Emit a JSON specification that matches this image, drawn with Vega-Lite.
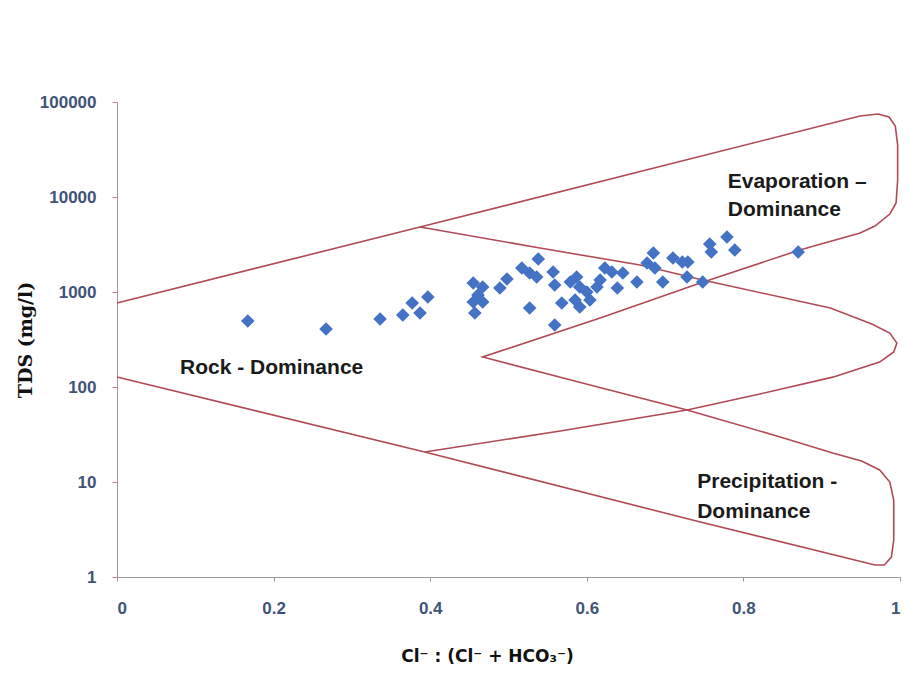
{
  "$schema": "https://vega.github.io/schema/vega-lite/v6.json",
  "width": 783,
  "height": 475,
  "autosize": {"type": "none"},
  "padding": {"left": 117, "top": 102, "right": 10, "bottom": 100},
  "background": "white",
  "config": {"view": {"stroke": null}},
  "datasets": {
    "boundary": [
      {"path": "outer", "order": 1, "ratio": 0, "tds": 766},
      {"path": "outer", "order": 2, "ratio": 0.387, "tds": 4832},
      {"path": "outer", "order": 3, "ratio": 0.949, "tds": 71250},
      {"path": "outer", "order": 4, "ratio": 0.972, "tds": 74780},
      {"path": "outer", "order": 5, "ratio": 0.986, "tds": 69500},
      {"path": "outer", "order": 6, "ratio": 0.994, "tds": 55850},
      {"path": "outer", "order": 7, "ratio": 0.997, "tds": 35260},
      {"path": "outer", "order": 8, "ratio": 0.997, "tds": 15100},
      {"path": "outer", "order": 9, "ratio": 0.995, "tds": 8650},
      {"path": "outer", "order": 10, "ratio": 0.987, "tds": 6620},
      {"path": "outer", "order": 11, "ratio": 0.968, "tds": 4950},
      {"path": "outer", "order": 12, "ratio": 0.949, "tds": 4180},
      {"path": "outer", "order": 13, "ratio": 0.872, "tds": 2770},
      {"path": "outer", "order": 14, "ratio": 0.745, "tds": 1244},
      {"path": "outer", "order": 15, "ratio": 0.617, "tds": 532},
      {"path": "outer", "order": 16, "ratio": 0.467, "tds": 207},
      {"path": "outer", "order": 17, "ratio": 0.598, "tds": 108},
      {"path": "outer", "order": 18, "ratio": 0.728, "tds": 57.3},
      {"path": "outer", "order": 19, "ratio": 0.847, "tds": 29.8},
      {"path": "outer", "order": 20, "ratio": 0.914, "tds": 20.2},
      {"path": "outer", "order": 21, "ratio": 0.951, "tds": 16.6},
      {"path": "outer", "order": 22, "ratio": 0.974, "tds": 13.4},
      {"path": "outer", "order": 23, "ratio": 0.987, "tds": 10},
      {"path": "outer", "order": 24, "ratio": 0.992, "tds": 6.46},
      {"path": "outer", "order": 25, "ratio": 0.992, "tds": 2.45},
      {"path": "outer", "order": 26, "ratio": 0.989, "tds": 1.62},
      {"path": "outer", "order": 27, "ratio": 0.98, "tds": 1.34},
      {"path": "outer", "order": 28, "ratio": 0.968, "tds": 1.34},
      {"path": "outer", "order": 29, "ratio": 0.745, "tds": 3.79},
      {"path": "outer", "order": 30, "ratio": 0.393, "tds": 20.7},
      {"path": "outer", "order": 31, "ratio": 0, "tds": 127.4},
      {"path": "middle", "order": 1, "ratio": 0.387, "tds": 4832},
      {"path": "middle", "order": 2, "ratio": 0.54, "tds": 2904},
      {"path": "middle", "order": 3, "ratio": 0.668, "tds": 1923},
      {"path": "middle", "order": 4, "ratio": 0.748, "tds": 1337},
      {"path": "middle", "order": 5, "ratio": 0.911, "tds": 678},
      {"path": "middle", "order": 6, "ratio": 0.964, "tds": 460},
      {"path": "middle", "order": 7, "ratio": 0.987, "tds": 370},
      {"path": "middle", "order": 8, "ratio": 0.996, "tds": 290},
      {"path": "middle", "order": 9, "ratio": 0.992, "tds": 234},
      {"path": "middle", "order": 10, "ratio": 0.974, "tds": 183},
      {"path": "middle", "order": 11, "ratio": 0.914, "tds": 127},
      {"path": "middle", "order": 12, "ratio": 0.821, "tds": 84.4},
      {"path": "middle", "order": 13, "ratio": 0.728, "tds": 57.3},
      {"path": "middle", "order": 14, "ratio": 0.566, "tds": 34.4},
      {"path": "middle", "order": 15, "ratio": 0.393, "tds": 20.7}
    ],
    "samples": [
      {"ratio": 0.167, "tds": 495},
      {"ratio": 0.267, "tds": 408},
      {"ratio": 0.336, "tds": 520},
      {"ratio": 0.365, "tds": 573},
      {"ratio": 0.377, "tds": 766},
      {"ratio": 0.387, "tds": 601},
      {"ratio": 0.397, "tds": 886},
      {"ratio": 0.455, "tds": 1244},
      {"ratio": 0.467, "tds": 1129},
      {"ratio": 0.461, "tds": 930},
      {"ratio": 0.455, "tds": 785},
      {"ratio": 0.467, "tds": 785},
      {"ratio": 0.457, "tds": 601},
      {"ratio": 0.489, "tds": 1102},
      {"ratio": 0.498, "tds": 1371},
      {"ratio": 0.517, "tds": 1790},
      {"ratio": 0.527, "tds": 1585},
      {"ratio": 0.538, "tds": 2225},
      {"ratio": 0.536, "tds": 1438},
      {"ratio": 0.557, "tds": 1624},
      {"ratio": 0.559, "tds": 1185},
      {"ratio": 0.527, "tds": 678},
      {"ratio": 0.568, "tds": 766},
      {"ratio": 0.559, "tds": 449},
      {"ratio": 0.579, "tds": 1274},
      {"ratio": 0.587, "tds": 1438},
      {"ratio": 0.591, "tds": 1129},
      {"ratio": 0.6, "tds": 1000},
      {"ratio": 0.585, "tds": 823},
      {"ratio": 0.591, "tds": 695},
      {"ratio": 0.604, "tds": 823},
      {"ratio": 0.613, "tds": 1129},
      {"ratio": 0.617, "tds": 1337},
      {"ratio": 0.623, "tds": 1790},
      {"ratio": 0.632, "tds": 1624},
      {"ratio": 0.639, "tds": 1102},
      {"ratio": 0.646, "tds": 1585},
      {"ratio": 0.664, "tds": 1274},
      {"ratio": 0.677, "tds": 2019},
      {"ratio": 0.685, "tds": 2575},
      {"ratio": 0.687, "tds": 1790},
      {"ratio": 0.697, "tds": 1274},
      {"ratio": 0.71, "tds": 2280},
      {"ratio": 0.722, "tds": 2069},
      {"ratio": 0.729, "tds": 2069},
      {"ratio": 0.728, "tds": 1438},
      {"ratio": 0.748, "tds": 1274},
      {"ratio": 0.757, "tds": 3200},
      {"ratio": 0.759, "tds": 2637},
      {"ratio": 0.779, "tds": 3793},
      {"ratio": 0.789, "tds": 2768},
      {"ratio": 0.87, "tds": 2637}
    ],
    "labels": [
      {"label": "Evaporation –", "ratio": 0.78, "tds": 14390},
      {"label": "Dominance", "ratio": 0.78, "tds": 7300},
      {"label": "Rock - Dominance", "ratio": 0.0805, "tds": 158},
      {"label": "Precipitation -", "ratio": 0.741, "tds": 10},
      {"label": "Dominance", "ratio": 0.741, "tds": 4.83}
    ]
  },
  "encoding": {
    "x": {
      "field": "ratio",
      "type": "quantitative",
      "scale": {"domain": [0, 1], "nice": false, "zero": false},
      "axis": {
        "title": "Cl⁻ : (Cl⁻ + HCO₃⁻)",
        "values": [0, 0.2, 0.4, 0.6, 0.8, 1],
        "format": "~g",
        "grid": false,
        "domainColor": "#9a9a9a",
        "tickColor": "#9a9a9a",
        "tickSize": 4,
        "labelPadding": 19,
        "labelFont": "Liberation Sans",
        "labelFontSize": 17,
        "labelFontWeight": "bold",
        "labelColor": "#3f5478",
        "titleFont": "DejaVu Sans",
        "titleFontSize": 17,
        "titleFontWeight": "bold",
        "titleColor": "#111111",
        "titlePadding": 32,
        "titleX": 370
      }
    },
    "y": {
      "field": "tds",
      "type": "quantitative",
      "scale": {"type": "log", "domain": [1, 100000], "nice": false},
      "axis": {
        "title": "TDS (mg/l)",
        "values": [1, 10, 100, 1000, 10000, 100000],
        "format": "d",
        "grid": false,
        "domainColor": "#9a9a9a",
        "tickColor": "#c08080",
        "tickSize": 5,
        "labelPadding": 16,
        "labelFont": "Liberation Sans",
        "labelFontSize": 17,
        "labelFontWeight": "bold",
        "labelColor": "#3f5478",
        "titleFont": "DejaVu Serif",
        "titleFontSize": 19,
        "titleFontWeight": "bold",
        "titleColor": "#111111",
        "titlePadding": 4
      }
    }
  },
  "layer": [
    {
      "data": {"name": "boundary"},
      "mark": {"type": "line", "color": "#b04a55", "strokeWidth": 1.6, "interpolate": "linear"},
      "encoding": {
        "detail": {"field": "path", "type": "nominal"},
        "order": {"field": "order", "type": "quantitative"}
      }
    },
    {
      "data": {"name": "samples"},
      "mark": {"type": "point", "shape": "diamond", "filled": true, "size": 185, "color": "#4472c4", "opacity": 1}
    },
    {
      "data": {"name": "labels"},
      "mark": {"type": "text", "align": "left", "baseline": "middle", "font": "Liberation Sans", "fontSize": 21, "fontWeight": "bold", "color": "#1a1a1a"},
      "encoding": {"text": {"field": "label", "type": "nominal"}}
    }
  ]
}
